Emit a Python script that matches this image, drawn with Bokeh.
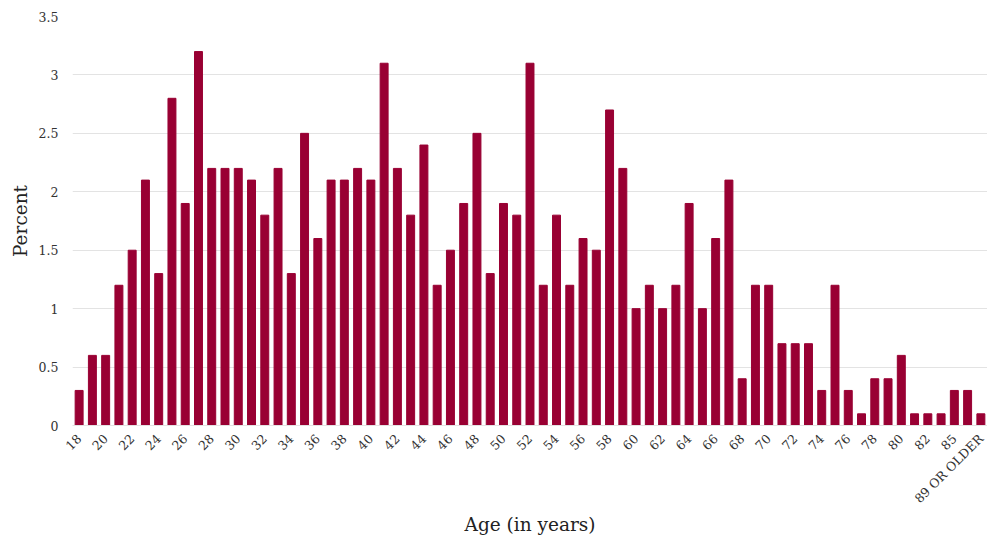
import math
from bokeh.plotting import figure
from bokeh.models import ColumnDataSource, FixedTicker, CustomJSTickFormatter
from bokeh.embed import file_html
from bokeh.resources import INLINE

ages = [str(a) for a in range(18, 83)] + ["83", "85", "86", "89 OR OLDER"]
percent = [0.3, 0.6, 0.6, 1.2, 1.5, 2.1, 1.3, 2.8, 1.9, 3.2,
           2.2, 2.2, 2.2, 2.1, 1.8, 2.2, 1.3, 2.5, 1.6, 2.1,
           2.1, 2.2, 2.1, 3.1, 2.2, 1.8, 2.4, 1.2, 1.5, 1.9,
           2.5, 1.3, 1.9, 1.8, 3.1, 1.2, 1.8, 1.2, 1.6, 1.5,
           2.7, 2.2, 1.0, 1.2, 1.0, 1.2, 1.9, 1.0, 1.6, 2.1,
           0.4, 1.2, 1.2, 0.7, 0.7, 0.7, 0.3, 1.2, 0.3, 0.1,
           0.4, 0.4, 0.6, 0.1, 0.1, 0.1, 0.3, 0.3, 0.1]
y_ticks = [0, 0.5, 1, 1.5, 2, 2.5, 3, 3.5]

src = ColumnDataSource(dict(age=ages, pct=percent))

p = figure(x_range=ages, y_range=(0, 3.5), width=987, height=538,
           output_backend="svg", toolbar_location=None,
           min_border_left=72, min_border_right=0, min_border_top=16, min_border_bottom=0)
p.vbar(x="age", top="pct", width=0.6, source=src, color="#990033")

p.outline_line_color = None
p.xgrid.grid_line_color = None
p.ygrid.grid_line_color = "#e3e3e3"
p.ygrid.grid_line_width = 1
p.x_range.range_padding = 0

p.yaxis.ticker = FixedTicker(ticks=y_ticks)
p.yaxis.formatter = CustomJSTickFormatter(code="return tick.toString();")
p.xaxis.formatter = CustomJSTickFormatter(code="return (index % 2 == 0) ? tick : '';")
p.xaxis.major_label_orientation = math.pi / 4

for ax in (p.xaxis, p.yaxis):
    ax.axis_line_color = None
    ax.major_tick_line_color = None
    ax.minor_tick_line_color = None
    ax.major_label_text_font = "DejaVu Serif"
    ax.major_label_text_font_size = "12.5px"
    ax.major_label_text_color = "#333333"
    ax.axis_label_text_font = "DejaVu Serif"
    ax.axis_label_text_font_size = "18.5px"
    ax.axis_label_text_font_style = "normal"
    ax.axis_label_text_color = "#222222"
p.xaxis.axis_line_color = "#e3e3e3"
p.xaxis.axis_label = "Age (in years)"
p.yaxis.axis_label = "Percent"
p.xaxis.major_label_standoff = 5
p.yaxis.major_label_standoff = 8
p.xaxis.axis_label_standoff = 0

open("out.html", "w").write(file_html(p, INLINE))
